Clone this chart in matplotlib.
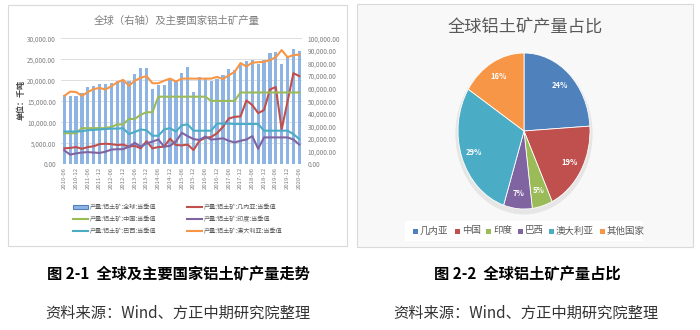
import numpy as np
import matplotlib
matplotlib.use('Agg')
import matplotlib.pyplot as plt
from matplotlib.patches import Rectangle, Ellipse
from matplotlib.lines import Line2D

plt.rcParams['font.family'] = ['Noto Sans CJK SC', 'DejaVu Sans']

# ---------------- data ----------------
tick_labels = ['2010-06', '2010-12', '2011-06', '2011-12', '2012-06', '2012-12',
               '2013-06', '2013-12', '2014-06', '2014-12', '2015-06', '2015-12',
               '2016-06', '2016-12', '2017-06', '2017-12', '2018-06', '2018-12',
               '2019-06', '2019-12', '2020-06']

global_prod = [54800, 54500, 54500, 56400, 61100, 62200, 63500, 64100, 64800, 65800,
               66800, 66400, 71300, 76200, 76200, 59800, 62800, 63300, 67000, 65800,
               72800, 77000, 57500, 69000, 67500, 66200, 68000, 70500, 75300, 74500,
               79000, 82000, 83000, 80000, 83000, 88000, 89200, 80000, 86000, 91800,
               90000]
guinea = [3800, 3900, 4100, 3700, 4100, 4300, 4800, 4900, 4800, 4600,
          4700, 4200, 4400, 3800, 5500, 3800, 4100, 4200, 6100, 4600,
          4500, 4700, 3400, 5600, 6300, 6500, 7400, 8900, 10900, 11300,
          11400, 15200, 14100, 12200, 12900, 17800, 18400, 8300, 14900, 21700,
          21000]
china = [7400, 7400, 7400, 8600, 8600, 8600, 8600, 8600, 8900, 9500,
         9500, 10800, 10800, 11800, 12400, 12400, 16100, 16100, 16100, 16100,
         16100, 16100, 16100, 16100, 16100, 15100, 15100, 15100, 15100, 15100,
         17100, 17100, 17100, 17100, 17100, 17100, 17100, 17100, 17100, 17100,
         17100]
india = [3300, 2300, 2600, 2800, 2900, 2800, 2700, 3000, 3500, 3600,
         3600, 4200, 5100, 4200, 5000, 5400, 5900, 4200, 4400, 5400,
         7500, 6700, 6000, 5800, 6600, 5900, 6000, 6200, 5600, 5200,
         5600, 5900, 6700, 3700, 6400, 6400, 6400, 6400, 6400, 5900,
         4700]
brazil = [7800, 7800, 7800, 7900, 8100, 8200, 8300, 8400, 8500, 8500,
          8600, 7200, 7700, 8300, 8100, 6800, 6800, 8300, 8600, 7800,
          9300, 9500, 8000, 8000, 8000, 8000, 9700, 9700, 9700, 9600,
          9600, 9600, 9600, 9600, 8000, 8000, 8000, 8000, 8000, 7200,
          6000]
australia = [16300, 17300, 17200, 16300, 17200, 17900, 18200, 17800, 18600, 19500,
             20100, 18700, 19900, 20600, 21000, 19300, 19300, 19900, 20400, 19700,
             20400, 20400, 20400, 20400, 20400, 20400, 20800, 20300, 21200, 22000,
             24100, 23300, 24200, 24300, 24400, 24800, 25500, 27200, 25500, 26000,
             26100]

series_names = ['产量:铝土矿:全球:当季值', '产量:铝土矿:几内亚:当季值',
                '产量:铝土矿:中国:当季值', '产量:铝土矿:印度:当季值',
                '产量:铝土矿:巴西:当季值', '产量:铝土矿:澳大利亚:当季值']

left_ticks = [0, 5000, 10000, 15000, 20000, 25000, 30000]
right_ticks = [0, 10000, 20000, 30000, 40000, 50000, 60000, 70000, 80000, 90000, 100000]

pie_labels = ['几内亚', '中国', '印度', '巴西', '澳大利亚', '其他国家']
pie_shares = [24, 19, 5, 7, 29, 16]

# ---------------- styles ----------------
C_BAR = '#8EB4E3'
C_GUINEA = '#C0504D'
C_CHINA = '#9BBB59'
C_INDIA = '#8064A2'
C_BRAZIL = '#4BACC6'
C_AUS = '#F79646'
pie_colors = ['#4F81BD', '#C0504D', '#9BBB59', '#8064A2', '#4BACC6', '#F79646']
GRAY = '#7f7f7f'

W, H = 700, 330
fig = plt.figure(figsize=(7, 3.3), dpi=100)


def fx(x):
    return x / W


def fy(y):
    return 1 - y / H


# panel frames
fig.add_artist(Rectangle((fx(8), fy(246)), (347 - 8) / W, (246 - 5) / H,
                         transform=fig.transFigure, facecolor='white',
                         edgecolor='#d9d9d9', lw=0.8, zorder=-2))
fig.add_artist(Rectangle((fx(357), fy(247)), (693 - 357) / W, (247 - 4) / H,
                         transform=fig.transFigure, facecolor='#f8f8f8',
                         edgecolor='#d9d9d9', lw=0.8, zorder=-2))

# ---------------- left chart ----------------
pos = [fx(61.4), fy(164.3), (302.2 - 61.4) / W, (164.3 - 38.3) / H]
n = len(global_prod)
x = np.arange(n)

ax_grid = fig.add_axes(pos, zorder=1)
ax_grid.set_facecolor('none')
ax_grid.set_xlim(-0.5, n - 0.5)
ax_grid.set_ylim(left_ticks[0], left_ticks[-1])
ax_grid.set_yticks(left_ticks)
ax_grid.set_xticks([])
ax_grid.tick_params(axis='y', length=0, labelleft=False)
ax_grid.grid(axis='y', color='#d9d9d9', lw=0.6)
for s in ax_grid.spines.values():
    s.set_visible(False)

ax_bar = fig.add_axes(pos, zorder=2)
ax_bar.set_facecolor('none')
ax_bar.bar(x, global_prod, width=0.55, color=C_BAR)
ax_bar.set_xlim(-0.5, n - 0.5)
ax_bar.set_ylim(right_ticks[0], right_ticks[-1])
ax_bar.yaxis.tick_right()
ax_bar.set_yticks(right_ticks)
ax_bar.set_yticklabels([f'{v:,.2f}' for v in right_ticks], fontsize=4.6, color=GRAY)
ax_bar.tick_params(axis='y', length=0, pad=4)
ax_bar.set_xticks([])
for s in ax_bar.spines.values():
    s.set_visible(False)

ax_line = fig.add_axes(pos, zorder=3)
ax_line.set_facecolor('none')
lw = 1.5
ax_line.plot(x, guinea, color=C_GUINEA, lw=lw)
ax_line.plot(x, china, color=C_CHINA, lw=lw)
ax_line.plot(x, india, color=C_INDIA, lw=lw)
ax_line.plot(x, brazil, color=C_BRAZIL, lw=lw)
ax_line.plot(x, australia, color=C_AUS, lw=lw)
ax_line.set_xlim(-0.5, n - 0.5)
ax_line.set_ylim(left_ticks[0], left_ticks[-1])
ax_line.set_yticks(left_ticks)
ax_line.set_yticklabels([f'{v:,.2f}' for v in left_ticks], fontsize=4.6, color=GRAY)
ax_line.tick_params(axis='y', length=0, pad=4)
ax_line.set_xticks(x[::2])
ax_line.set_xticklabels(tick_labels, rotation=90, fontsize=4.3, color=GRAY)
ax_line.tick_params(axis='x', length=0, pad=2)
for s in ax_line.spines.values():
    s.set_visible(False)

fig.text(fx(176.7), fy(21), '全球（右轴）及主要国家铝土矿产量', fontsize=7.5,
         color=GRAY, ha='center', va='center')
fig.text(fx(21.5), fy(100), '单位：千吨', fontsize=5.8, fontweight='bold',
         color='#404040', rotation=90, ha='center', va='center')

# manual legend
rows = [207, 219, 231]
hx = [(73, 88), (187, 202)]
tx = [90, 204]
leg_colors = [C_BAR, C_GUINEA, C_CHINA, C_INDIA, C_BRAZIL, C_AUS]
for k, name in enumerate(series_names):
    r, c = divmod(k, 2)
    yy = rows[r]
    x0, x1 = hx[c]
    if k == 0:
        fig.add_artist(Rectangle((fx(x0), fy(yy + 2)), (x1 - x0) / W, 4 / H,
                                 transform=fig.transFigure, facecolor=C_BAR,
                                 edgecolor='#4F81BD', lw=0.8))
    else:
        fig.add_artist(Line2D([fx(x0), fx(x1)], [fy(yy), fy(yy)],
                              transform=fig.transFigure, color=leg_colors[k], lw=1.5))
    fig.text(fx(tx[c]), fy(yy), name, fontsize=4.4, color='#595959',
             ha='left', va='center')

# ---------------- pie chart ----------------
fig.text(fx(525), fy(27), '全球铝土矿产量占比', fontsize=12.4, color='#595959',
         ha='center', va='center')

axp = fig.add_axes([fx(458), fy(209), 132 / W, 156 / H])
wedges, texts, autotexts = axp.pie(
    pie_shares, colors=pie_colors, startangle=90, counterclock=False,
    autopct='%1.0f%%', pctdistance=0.8,
    wedgeprops=dict(edgecolor='white', linewidth=0.6),
    textprops=dict(color='white', fontsize=5.5, fontweight='bold'))
axp.set_aspect('auto')
axp.set_xlim(-1, 1)
axp.set_ylim(-1, 1)
axp.add_patch(Ellipse((0.0, -0.04), 2.08, 2.06, facecolor='#000000', alpha=0.07,
                      zorder=0, clip_on=False))

# pie legend
fig.add_artist(Rectangle((fx(405), fy(241)), (643 - 405) / W, 20 / H,
                         transform=fig.transFigure, facecolor='white',
                         edgecolor='none', zorder=-1))
sq_x = [413, 455, 486, 518, 549, 600]
ly = 231
for lab, col, sx in zip(pie_labels, pie_colors, sq_x):
    fig.add_artist(Rectangle((fx(sx), fy(ly + 2.5)), 5 / W, 5 / H,
                             transform=fig.transFigure, facecolor=col, edgecolor='none'))
    fig.text(fx(sx + 7), fy(ly), lab, fontsize=6.8, color='#595959',
             ha='left', va='center')

# ---------------- captions ----------------
fig.text(fx(178), fy(274), '图 2-1  全球及主要国家铝土矿产量走势', fontsize=11,
         fontweight='bold', color='black', ha='center', va='center')
fig.text(fx(178), fy(313), '资料来源：Wind、方正中期研究院整理', fontsize=11,
         color='#333333', ha='center', va='center')
fig.text(fx(527), fy(274), '图 2-2  全球铝土矿产量占比', fontsize=11,
         fontweight='bold', color='black', ha='center', va='center')
fig.text(fx(526), fy(313), '资料来源：Wind、方正中期研究院整理', fontsize=11,
         color='#333333', ha='center', va='center')

fig.savefig('out.png', dpi=100)
